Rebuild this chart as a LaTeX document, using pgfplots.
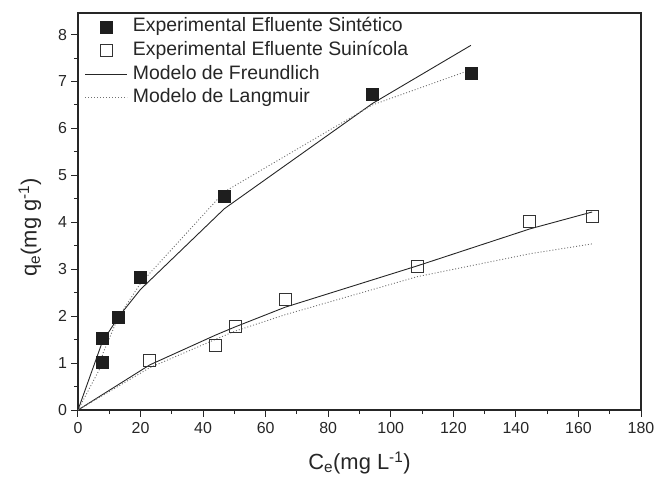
\documentclass[border=0pt]{standalone}
\usepackage{fontspec}
\setmainfont{Liberation Sans}
\usepackage{pgfplots}
\pgfplotsset{compat=1.18}
\definecolor{markfill}{HTML}{1E1E1E}
\definecolor{solidline}{HTML}{262626}
\definecolor{dotline}{HTML}{707070}
\begin{document}
\begin{tikzpicture}
\begin{axis}[
  width=563bp, height=397bp, scale only axis,
  xmin=0, xmax=180, ymin=0, ymax=8.46,
  xtick={0,20,...,180}, ytick={0,1,...,8},
  minor x tick num=1, minor y tick num=1,
  tick pos=left, tick align=outside,
  major tick length=6.5bp, minor tick length=4bp,
  axis line style={line width=1.2bp, color=black!85},
  every tick/.style={line width=1bp, color=black!85},
  /pgf/number format/assume math mode=true,
  ticklabel style={font=\fontsize{16}{19}\selectfont, color=black!85},
  xticklabel style={yshift=-2bp},
  yticklabel style={xshift=-1bp},
  xlabel={C\textsubscript{e}(mg L\textsuperscript{-1})},
  ylabel={q\textsubscript{e}(mg g\textsuperscript{-1})},
  every axis x label/.style={at={(axis description cs:0.5,-0.1335)}, anchor=center},
  every axis y label/.style={at={(axis description cs:-0.0853,0.46)}, anchor=center, rotate=90},
  label style={font=\fontsize{22}{26}\selectfont, color=black!85},
  legend image code/.code={\draw[mark repeat=2,mark phase=2,#1] plot coordinates {(0bp,0bp) (21bp,0bp) (42bp,0bp)};},
  legend style={at={(0.012,0.991)}, anchor=north west, draw=none, fill=none,
    font=\fontsize{19.5}{22}\selectfont, inner sep=0pt, row sep=3.7bp, column sep=4bp,
    nodes={inner sep=1bp, text height=14bp, text depth=4bp, text=black!85}},
  legend cell align=left,
]
\addplot[only marks, mark=square*, mark size=6bp, mark options={fill=markfill, draw=markfill, line width=0.5bp}]
  coordinates {(7.6,1.01) (7.8,1.53) (12.9,1.97) (20.0,2.82) (46.8,4.56) (94.1,6.73) (125.6,7.17)};
\addlegendentry{Experimental Efluente Sintético}
\addplot[only marks, mark=square, mark size=6bp, mark options={draw=black!80, line width=1bp}]
  coordinates {(22.9,1.06) (44.1,1.38) (50.2,1.78) (66.2,2.36) (108.4,3.05) (144.5,4.02) (164.4,4.12)};
\addlegendentry{Experimental Efluente Suinícola}
\addplot[solidline, line width=0.9bp]
  coordinates {(0,0) (7.6,1.42) (7.8,1.45) (12.9,1.98) (20.0,2.57) (46.8,4.29) (94.1,6.53) (125.6,7.77)};
\addlegendentry{Modelo de Freundlich}
\addplot[dotline, line width=0.9bp, dash pattern=on 1bp off 2bp]
  coordinates {(0,0) (7.6,0.96) (7.8,1.18) (12.9,1.98) (20.0,2.70) (46.8,4.65) (94.1,6.50) (125.6,7.25)};
\addlegendentry{Modelo de Langmuir}
\addplot[solidline, line width=0.9bp, forget plot]
  coordinates {(0,0) (22.9,0.96) (44.1,1.60) (50.2,1.77) (66.2,2.19) (108.4,3.07) (144.5,3.86) (164.4,4.22)};
\addplot[dotline, line width=0.9bp, dash pattern=on 1bp off 2bp, forget plot]
  coordinates {(0,0) (22.9,0.90) (44.1,1.51) (50.2,1.68) (66.2,2.03) (108.4,2.84) (144.5,3.33) (164.4,3.54)};
\end{axis}
\pgfresetboundingbox
\path ([xshift=-78bp,yshift=-71bp]current axis.south west) rectangle ([xshift=18bp,yshift=13bp]current axis.north east);
\end{tikzpicture}
\end{document}
